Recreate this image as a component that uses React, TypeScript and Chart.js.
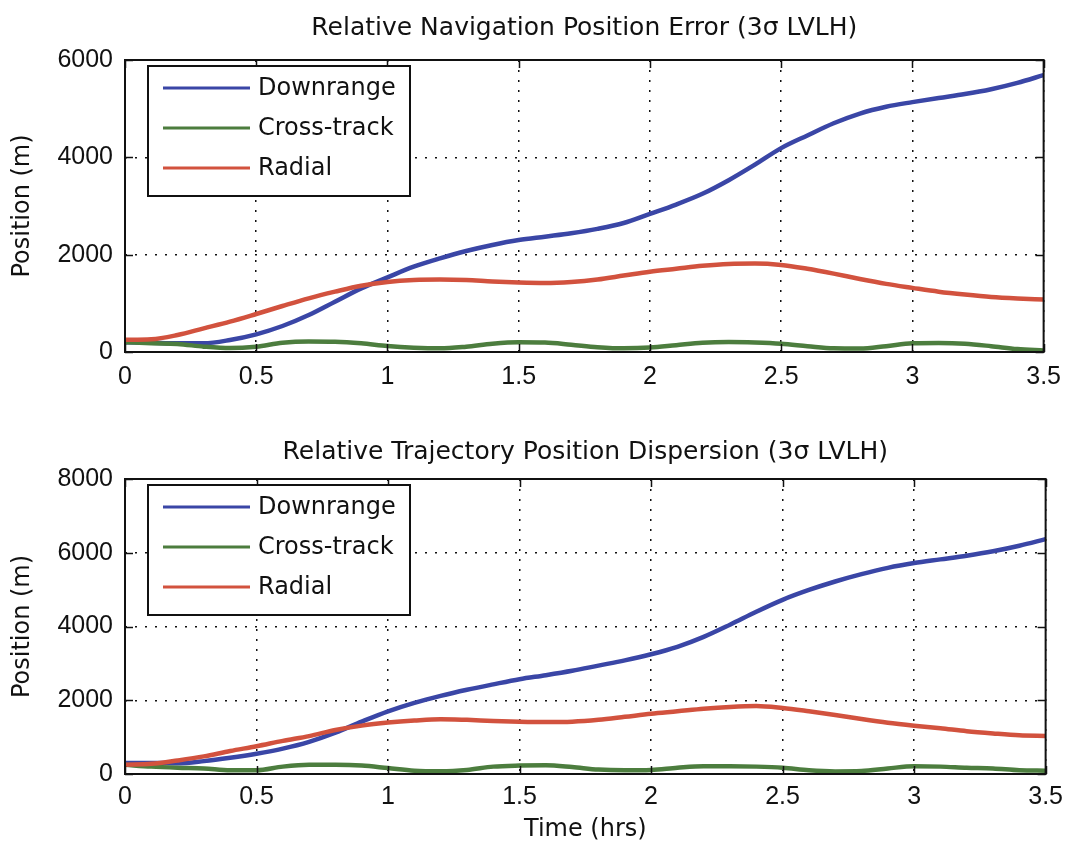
import React, { useEffect, useRef } from "react";
import { Chart, registerables } from "chart.js";

Chart.register(...registerables);

// Time samples (hours)
const timeHrs = [
  0, 0.1, 0.2, 0.3, 0.4, 0.5, 0.6, 0.7, 0.8, 0.9, 1.0, 1.1, 1.2, 1.3, 1.4, 1.5, 1.6, 1.7,
  1.8, 1.9, 2.0, 2.1, 2.2, 2.3, 2.4, 2.5, 2.6, 2.7, 2.8, 2.9, 3.0, 3.1, 3.2, 3.3, 3.4, 3.5,
];

const xTickLabels = ["0", "0.5", "1", "1.5", "2", "2.5", "3", "3.5"];
const navYTicks = [0, 2000, 4000, 6000];
const dispYTicks = [0, 2000, 4000, 6000, 8000];

const seriesNames = ["Downrange", "Cross-track", "Radial"];
const seriesColors = ["#3a46a6", "#4c7d3e", "#d2523e"];

// Relative navigation position error, 3-sigma LVLH (m)
const navDownrange = [
  200, 190, 180, 180, 247, 363, 534, 760, 1034, 1308, 1534, 1753, 1924, 2075, 2199, 2300, 2370, 2440,
  2530, 2650, 2838, 3030, 3250, 3530, 3850, 4189, 4450, 4700, 4900, 5040, 5135, 5220, 5300, 5400, 5530, 5690,
];
const navCrossTrack = [
  200, 180, 165, 110, 80, 110, 190, 215, 210, 178, 123, 89, 75, 110, 170, 200, 195, 150,
  100, 75, 90, 140, 190, 205, 195, 170, 120, 75, 70, 120, 180, 185, 170, 120, 60, 30,
];
const navRadial = [
  250, 260, 349, 486, 623, 781, 945, 1103, 1240, 1363, 1440, 1480, 1490, 1480, 1450, 1430, 1420, 1440,
  1490, 1570, 1650, 1710, 1770, 1810, 1820, 1790, 1710, 1610, 1500, 1400, 1318, 1240, 1180, 1130, 1100, 1080,
];

// Relative trajectory position dispersion, 3-sigma LVLH (m)
const dispDownrange = [
  300, 300, 290, 349, 440, 550, 688, 872, 1120, 1420, 1700, 1930, 2120, 2285, 2431, 2570, 2680, 2800,
  2940, 3080, 3247, 3450, 3720, 4050, 4400, 4723, 4990, 5220, 5420, 5590, 5720, 5820, 5920, 6040, 6190, 6370,
];
const dispCrossTrack = [
  250, 200, 170, 150, 100, 100, 200, 250, 250, 230, 160, 90, 75, 110, 200, 230, 240, 190,
  120, 100, 110, 170, 210, 210, 200, 170, 100, 70, 80, 150, 210, 200, 170, 150, 100, 90,
];
const dispRadial = [
  250, 275, 367, 477, 624, 752, 899, 1028, 1193, 1312, 1394, 1450, 1486, 1468, 1440, 1420, 1410, 1420,
  1470, 1550, 1633, 1700, 1770, 1820, 1845, 1790, 1700, 1600, 1490, 1390, 1310, 1240, 1160, 1100, 1050, 1033,
];

const TEXT_FONT = '"DejaVu Sans", sans-serif';
const TICK_FONT = '"Liberation Sans", Arial, sans-serif';
const INK = "#111111";

// Draws the boxed axes frame, inward tick marks and the framed legend.
const framePlugin = {
  id: "framedAxes",
  afterDraw(chart: any) {
    const { ctx, chartArea, scales } = chart;
    const { left, right, top, bottom } = chartArea;
    ctx.save();
    ctx.strokeStyle = INK;
    ctx.lineWidth = 1.5;
    const tickLen = 8;
    ctx.beginPath();
    scales.x.ticks.forEach((t: any) => {
      const px = Math.round(scales.x.getPixelForValue(t.value)) + 0.5;
      ctx.moveTo(px, bottom);
      ctx.lineTo(px, bottom - tickLen);
      ctx.moveTo(px, top);
      ctx.lineTo(px, top + tickLen);
    });
    scales.y.ticks.forEach((t: any) => {
      const py = Math.round(scales.y.getPixelForValue(t.value)) + 0.5;
      ctx.moveTo(left, py);
      ctx.lineTo(left + tickLen, py);
      ctx.moveTo(right, py);
      ctx.lineTo(right - tickLen, py);
    });
    ctx.stroke();

    ctx.lineWidth = 2;
    ctx.strokeRect(left, top, right - left, bottom - top);

    // legend box
    const bx = left + 23;
    const by = top + 6;
    const bw = 262;
    const bh = 130;
    ctx.fillStyle = "#ffffff";
    ctx.fillRect(bx, by, bw, bh);
    ctx.lineWidth = 2;
    ctx.strokeStyle = INK;
    ctx.strokeRect(bx, by, bw, bh);
    ctx.font = `24px ${TEXT_FONT}`;
    ctx.textBaseline = "middle";
    ctx.textAlign = "left";
    chart.data.datasets.forEach((ds: any, i: number) => {
      const ly = by + 22 + i * 40;
      ctx.strokeStyle = ds.borderColor;
      ctx.lineWidth = 3;
      ctx.beginPath();
      ctx.moveTo(bx + 15, ly);
      ctx.lineTo(bx + 102, ly);
      ctx.stroke();
      ctx.fillStyle = INK;
      ctx.fillText(ds.label, bx + 110, ly + 1);
    });
    ctx.restore();
  },
};

type PanelProps = {
  title: string;
  series: number[][];
  yTicks: number[];
  xTitle?: string;
  top: number;
  height: number;
  titlePad: { top: number; bottom: number };
  xAxisHeight: number;
  xTickPad: number;
};

function PositionPanel(props: PanelProps) {
  const ref = useRef<HTMLCanvasElement | null>(null);

  useEffect(() => {
    if (!ref.current) return;
    const yMax = props.yTicks[props.yTicks.length - 1];
    const drawOrder = [2, 1, 0];
    const chart = new Chart(ref.current, {
      type: "line",
      data: {
        datasets: props.series.map((vals, i) => ({
          label: seriesNames[i],
          data: timeHrs.map((t, k) => ({ x: t, y: vals[k] })),
          borderColor: seriesColors[i],
          backgroundColor: seriesColors[i],
          borderWidth: 4.5,
          pointRadius: 0,
          cubicInterpolationMode: "monotone" as const,
          fill: false,
          order: drawOrder[i],
        })),
      },
      options: {
        animation: false,
        responsive: false,
        layout: { padding: { left: 0, right: 20, top: 0, bottom: 0 } },
        plugins: {
          legend: { display: false },
          tooltip: { enabled: false },
          title: {
            display: true,
            fullSize: false,
            text: props.title,
            color: INK,
            font: { family: TEXT_FONT, size: 25, weight: "normal" },
            padding: props.titlePad,
          },
        },
        scales: {
          x: {
            type: "linear",
            min: 0,
            max: 3.5,
            afterFit: (scale: any) => {
              scale.height = props.xAxisHeight;
            },
            afterBuildTicks: (scale: any) => {
              scale.ticks = xTickLabels.map((s) => ({ value: parseFloat(s) }));
            },
            ticks: {
              color: INK,
              font: { family: TICK_FONT, size: 25 },
              padding: props.xTickPad,
              maxRotation: 0,
              autoSkip: false,
              callback: (v: any) => {
                const hit = xTickLabels.find((s) => parseFloat(s) === Number(v));
                return hit ?? "";
              },
            },
            grid: { color: INK, lineWidth: 1.5, drawTicks: false },
            border: { display: false, dash: [2, 8] },
            title: {
              display: !!props.xTitle,
              text: props.xTitle || "",
              color: INK,
              font: { family: TEXT_FONT, size: 24 },
              padding: { top: 0, bottom: 6 },
            },
          },
          y: {
            type: "linear",
            min: 0,
            max: yMax,
            afterFit: (scale: any) => {
              scale.width = 125;
            },
            afterBuildTicks: (scale: any) => {
              scale.ticks = props.yTicks.map((v) => ({ value: v }));
            },
            ticks: {
              color: INK,
              font: { family: TICK_FONT, size: 25 },
              padding: 12,
              callback: (v: any) => String(v),
            },
            grid: { color: INK, lineWidth: 1.5, drawTicks: false },
            border: { display: false, dash: [2, 8] },
            title: {
              display: true,
              text: "Position (m)",
              color: INK,
              font: { family: TEXT_FONT, size: 24 },
              padding: { top: 8, bottom: 0 },
            },
          },
        },
      },
      plugins: [framePlugin],
    });
    return () => chart.destroy();
  }, []);

  return (
    <canvas
      ref={ref}
      width={1071}
      height={props.height}
      style={{ position: "absolute", left: 0, top: props.top, width: 1071, height: props.height }}
    />
  );
}

export default function App() {
  return (
    <div style={{ position: "absolute", left: 0, top: 0, width: 1071, height: 850, background: "#fff" }}>
      <PositionPanel
        title="Relative Navigation Position Error (3σ LVLH)"
        series={[navDownrange, navCrossTrack, navRadial]}
        yTicks={navYTicks}
        top={0}
        height={400}
        titlePad={{ top: 13, bottom: 17 }}
        xAxisHeight={48}
        xTickPad={10}
      />
      <PositionPanel
        title="Relative Trajectory Position Dispersion (3σ LVLH)"
        series={[dispDownrange, dispCrossTrack, dispRadial]}
        yTicks={dispYTicks}
        xTitle="Time (hrs)"
        top={400}
        height={450}
        titlePad={{ top: 37, bottom: 12 }}
        xAxisHeight={76}
        xTickPad={8}
      />
    </div>
  );
}
